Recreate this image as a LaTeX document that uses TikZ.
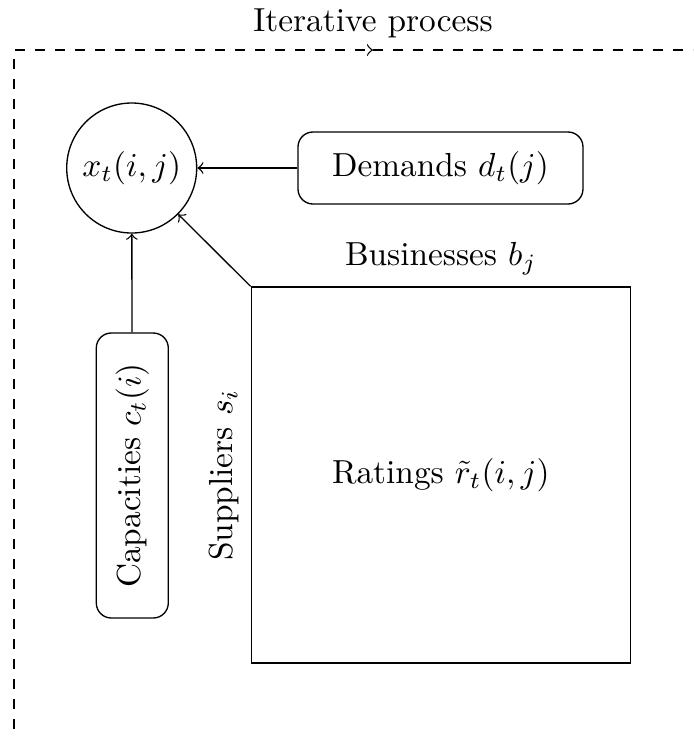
\documentclass[tikz,border=0pt]{standalone}
\usetikzlibrary{positioning}
\begin{document}
\begin{tikzpicture}[x=0.3pt,y=-0.3pt,>=to,
  roundbox/.style={draw,rounded corners=4.5pt,minimum width=85.5pt,minimum height=21.6pt,inner sep=0pt},
  varnode/.style={draw,circle,minimum size=39pt,inner sep=0pt},
  matrixbox/.style={draw,minimum width=113.7pt,minimum height=112.8pt,inner sep=0pt},
  frame/.style={dashed},
  link/.style={->}]
\useasboundingbox (0,0) rectangle (693,736);
\clip (0,0) rectangle (693,736);
% dashed iterative frame
\coordinate (ftop) at (15,50);
\coordinate (fmid) at (373,50);
\coordinate (fend) at (720,50);
\coordinate (lt) at (14,59);
\coordinate (lb) at (14,760);
\draw[frame,->] (ftop) -- (fmid);
\draw[frame] (fmid) -- (fend);
\draw[frame] (lt) -- (lb);
\node[above] (it) at (fmid) {Iterative process};
% nodes
\node[varnode] (x) at (131.7,168) {$x_t(i,j)$};
\node[roundbox] (d) at (440.5,168) {Demands $d_t(j)$};
\node[roundbox,rotate=90] (c) at (132.3,475.5) {Capacities $c_t(i)$};
\node[matrixbox] (r) at (440.8,475) {Ratings $\tilde r_t(i,j)$};
\node[above] (bl) at (r.north) {Businesses $b_j$};
\node[rotate=90,anchor=south] (sl) at (r.west) {Suppliers $s_i$};
% connectors
\draw[link] (d) -- (x);
\draw[link] (c) -- (x);
\draw[link] (r.north west) -- (x);
\end{tikzpicture}
\end{document}
